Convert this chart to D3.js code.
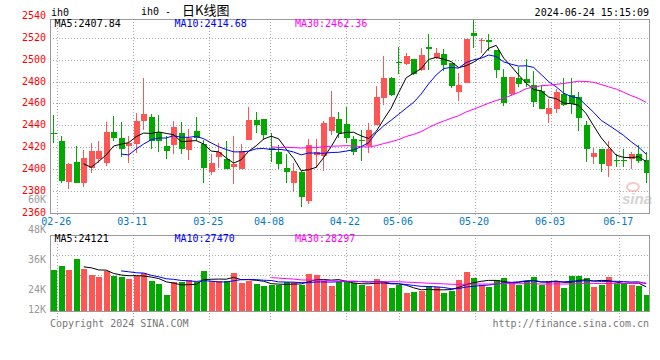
<!DOCTYPE html>
<html><head><meta charset="utf-8">
<script src="https://cdn.jsdelivr.net/npm/d3@7"></script>
<style>html,body{margin:0;padding:0;background:#fff;} svg{display:block;}</style>
</head><body>
<svg id="c" width="660" height="360"></svg>
<script>
const dates = ["02-23","02-26","02-27","02-28","02-29","03-01","03-04","03-05","03-06","03-07","03-08","03-11","03-12","03-13","03-14","03-15","03-18","03-19","03-20","03-21","03-22","03-25","03-26","03-27","03-28","03-29","04-01","04-02","04-03","04-08","04-09","04-10","04-11","04-12","04-15","04-16","04-17","04-18","04-19","04-22","04-23","04-24","04-25","04-26","04-29","04-30","05-06","05-07","05-08","05-09","05-10","05-13","05-14","05-15","05-16","05-17","05-20","05-21","05-22","05-23","05-24","05-27","05-28","05-29","05-30","05-31","06-03","06-04","06-05","06-06","06-07","06-11","06-12","06-13","06-14","06-17","06-18","06-19","06-20","06-21"];
const opens = [2432.5,2425.6,2388.4,2406.4,2387.5,2401.2,2409.4,2405.8,2433.8,2428.3,2421.0,2422.6,2443.9,2447.3,2433.8,2421.0,2421.9,2432.9,2417.4,2434.7,2422.8,2397.5,2411.3,2409.1,2402.1,2400.0,2426.5,2444.8,2445.7,2419.2,2415.8,2401.2,2387.5,2397.5,2371.0,2412.8,2412.2,2435.0,2445.7,2441.1,2427.1,2426.2,2421.3,2440.2,2465.3,2483.6,2497.8,2496.4,2500.9,2490.6,2511.6,2501.3,2504.9,2497.3,2470.7,2478.7,2524.1,2517.8,2518.0,2508.9,2484.5,2468.3,2483.3,2482.4,2476.9,2471.7,2450.0,2454.6,2468.3,2467.4,2466.2,2440.3,2411.3,2418.6,2402.8,2408.5,2408.5,2408.9,2413.4,2408.2];
const highs = [2449.4,2430.2,2405.8,2421.0,2417.4,2423.5,2425.6,2443.0,2448.5,2443.0,2430.2,2450.9,2483.6,2450.3,2449.4,2430.2,2443.9,2443.0,2436.6,2447.6,2426.5,2413.7,2424.1,2425.6,2430.2,2422.8,2457.0,2452.4,2445.7,2433.2,2421.9,2413.7,2405.8,2398.2,2427.4,2427.4,2443.9,2471.3,2452.4,2457.0,2430.0,2435.7,2441.8,2475.9,2503.7,2484.5,2511.9,2506.4,2500.9,2511.0,2523.2,2511.0,2509.5,2497.3,2487.5,2518.9,2537.2,2520.2,2523.2,2508.9,2491.2,2484.5,2493.0,2500.4,2490.0,2476.9,2463.8,2472.9,2483.0,2483.0,2470.8,2444.2,2418.9,2418.6,2425.6,2413.4,2418.0,2415.9,2422.0,2415.9];
const lows = [2423.5,2387.5,2382.0,2387.0,2383.8,2396.6,2405.8,2402.7,2425.9,2411.3,2405.8,2414.3,2435.7,2418.6,2415.8,2409.4,2413.7,2413.7,2408.2,2426.0,2387.5,2394.5,2401.2,2399.7,2386.2,2400.0,2426.5,2433.2,2426.5,2406.7,2400.0,2387.5,2379.2,2365.5,2368.0,2400.6,2398.1,2431.1,2428.6,2424.1,2413.0,2407.6,2414.3,2440.2,2458.6,2466.8,2486.6,2495.1,2486.0,2489.7,2490.6,2500.6,2489.7,2473.8,2462.2,2478.7,2510.4,2505.8,2508.3,2483.0,2457.7,2467.1,2475.3,2474.7,2456.4,2454.6,2441.8,2450.9,2457.7,2450.3,2435.1,2406.7,2404.6,2397.6,2392.4,2402.2,2402.2,2400.0,2405.2,2386.9];
const closes = [2432.0,2389.3,2404.5,2387.5,2410.0,2416.5,2416.5,2433.8,2428.3,2418.6,2423.5,2443.9,2450.3,2425.9,2425.9,2416.8,2438.1,2418.6,2428.0,2428.3,2401.2,2405.8,2415.2,2400.3,2404.5,2416.5,2444.8,2440.2,2431.1,2417.4,2404.5,2397.5,2398.1,2374.6,2421.9,2415.5,2442.4,2447.8,2433.2,2428.6,2415.9,2425.9,2435.7,2465.9,2483.6,2467.7,2496.8,2503.4,2486.9,2504.3,2510.1,2505.8,2495.2,2475.9,2476.8,2518.9,2522.0,2518.2,2515.9,2490.6,2460.7,2484.5,2478.1,2478.7,2461.6,2454.6,2456.1,2470.5,2458.6,2459.2,2447.0,2418.0,2414.3,2404.3,2418.6,2408.0,2408.0,2413.4,2407.6,2396.7];
const volumes = [32000,33600,32000,36400,32400,30000,29333,31600,29733,29333,28533,29600,30800,27600,26400,22000,27067,27200,28000,27067,31600,27600,27600,27733,30800,26933,27600,26400,25733,26000,26000,27067,27067,26000,30400,30000,27600,25733,27067,27067,26667,26000,25600,28400,27600,24800,26000,22800,23200,23600,25600,25200,22800,23600,28000,31200,28800,25867,25333,28000,28800,27200,26000,27600,29200,26000,27600,27600,24800,29600,29600,28800,25200,26000,29200,26400,26400,26000,25600,22000];
const xTickLabels = ["02-26","03-11","03-25","04-08","04-22","05-06","05-20","06-03","06-17"];
const priceTicks = [2360,2380,2400,2420,2440,2460,2480,2500,2520,2540];
const volTicks = [12000,24000,36000,48000,60000];
const priceHeader = ["MA5:2407.84","MA10:2414.68","MA30:2462.36"];
const volHeader = ["MA5:24121","MA10:27470","MA30:28297"];
const maPeriods = [5,10,30];
const maColors = ["#000000","#0000ff","#ff00ff"];
const symbolText = "ih0";
const titleLatin = "ih0 - ";
const titleCJK = "日K线图";
const timeText = "2024-06-24 15:15:09";
const footLeft = "Copyright 2024 SINA.COM";
const footRight = "http://finance.sina.com.cn";

const RED = "#ff5555", GREEN = "#00a800", GRID = "#aaaaaa", BORDER = "#999999";
const MONO = "'DejaVu Sans Mono', monospace";
const L = 50, R = 649, MT = 19, MB = 213, VT = 234.5, VB = 311;

const svg = d3.select("#c");
const x = d3.scalePoint().domain(dates).range([53.2, 645.7]);
const xGrid = d3.scaleLinear().domain([1, 75]).range([57.3, 619.3]);
const y = d3.scaleLinear().domain([2360, 2540]).range([212.7, 16]);
const yv = d3.scaleLinear().domain([0, 60000]).range([350, 200]);

const data = dates.map((d, i) => ({d, o: opens[i], h: highs[i], l: lows[i], c: closes[i], v: volumes[i]}));
const colorOf = d => d.c >= d.o ? RED : GREEN;

function ma(arr, n) { return arr.map((_, i) => i < n - 1 ? null : d3.mean(arr.slice(i - n + 1, i + 1))); }

// Gridlines
const g = svg.append("g").attr("stroke", GRID).attr("stroke-dasharray", "1,2").attr("shape-rendering", "crispEdges");
priceTicks.filter(t => t > 2360 && t < 2540).forEach(t => {
  const yy = Math.round(y(t)) + 0.5;
  g.append("line").attr("x1", L).attr("x2", R).attr("y1", yy).attr("y2", yy);
});
[255, 275, 295].forEach(yy => g.append("line").attr("x1", L).attr("x2", R).attr("y1", yy + 0.5).attr("y2", yy + 0.5));
xTickLabels.forEach(lab => {
  const xx = Math.round(xGrid(dates.indexOf(lab))) + 0.5;
  g.append("line").attr("x1", xx).attr("x2", xx).attr("y1", MT).attr("y2", MB + 3);
  g.append("line").attr("x1", xx).attr("x2", xx).attr("y1", VT).attr("y2", 320);
});

// Candles
const bw = 6;
const cg = svg.append("g").attr("shape-rendering", "crispEdges");
data.forEach(d => {
  const cx = Math.round(x(d.d));
  const col = colorOf(d);
  cg.append("line").attr("x1", cx + 0.5).attr("x2", cx + 0.5).attr("y1", y(d.h)).attr("y2", y(d.l)).attr("stroke", col);
  const top = y(Math.max(d.o, d.c)), bot = y(Math.min(d.o, d.c));
  cg.append("rect").attr("x", cx - 2.5).attr("y", top).attr("width", bw).attr("height", Math.max(1, bot - top)).attr("fill", col);
});

// Price MA lines
maPeriods.forEach((n, k) => {
  const m = ma(closes, n);
  const line = d3.line().defined(d => d[1] != null).x(d => x(d[0]) + 0.5).y(d => y(d[1]));
  svg.append("path").datum(dates.map((d, i) => [d, m[i]])).attr("d", line)
    .attr("fill", "none").attr("stroke", maColors[k]).attr("stroke-width", 1);
});

// Volume bars
const vg = svg.append("g").attr("shape-rendering", "crispEdges");
data.forEach(d => {
  const cx = Math.round(x(d.d));
  const top = yv(d.v);
  vg.append("rect").attr("x", cx - 2.5).attr("y", top).attr("width", bw).attr("height", VB - top).attr("fill", colorOf(d));
});
maPeriods.forEach((n, k) => {
  const m = ma(volumes, n);
  const line = d3.line().defined(d => d[1] != null).x(d => x(d[0]) + 0.5).y(d => yv(d[1]));
  svg.append("path").datum(dates.map((d, i) => [d, m[i]])).attr("d", line)
    .attr("fill", "none").attr("stroke", maColors[k]).attr("stroke-width", 1);
});

// Borders
const bg = svg.append("g").attr("stroke", BORDER).attr("fill", "none").attr("shape-rendering", "crispEdges");
bg.append("rect").attr("x", L + 0.5).attr("y", MT + 0.5).attr("width", R - L).attr("height", MB - MT);
bg.append("rect").attr("x", L + 0.5).attr("y", VT + 0.5).attr("width", R - L).attr("height", VB - VT);

// Watermark
const wm = svg.append("g").attr("opacity", 0.55);
wm.append("ellipse").attr("cx", 633).attr("cy", 187).attr("rx", 6).attr("ry", 4).attr("fill", "none").attr("stroke", "#f0a0a0").attr("stroke-width", 2);
wm.append("text").attr("x", 622).attr("y", 204).attr("font-family", "Arial, 'Liberation Sans', sans-serif")
  .attr("font-size", 15).attr("font-weight", "bold").attr("font-style", "italic").attr("fill", "#b0b0b0").text("sina");

// Axis labels
const txt = (xx, yy, s, col, anchor, extra) => {
  const t = svg.append("text").attr("x", xx).attr("y", yy).attr("font-family", MONO).attr("font-size", 10)
    .attr("fill", col).attr("text-anchor", anchor || "start").text(s);
  if (extra) extra(t);
  return t;
};
priceTicks.forEach(t => txt(46, y(t), String(t), "#ff0000", "end", s => s.attr("dominant-baseline", "middle")));
volTicks.forEach(t => txt(46, Math.min(yv(t), 310), (t / 1000) + "K", "#999999", "end", s => s.attr("dominant-baseline", "middle")));
xTickLabels.forEach(lab => txt(xGrid(dates.indexOf(lab)) - 1, 225, lab, "#0078c8", "middle"));

// Headers
txt(51, 15.5, symbolText, "#000");
const title = svg.append("text").attr("x", 141).attr("y", 15).attr("fill", "#000");
title.append("tspan").attr("font-family", MONO).attr("font-size", 10).text(titleLatin);
title.append("tspan").attr("x", 182).attr("font-family", "'Noto Sans CJK SC', sans-serif").attr("font-size", 13).text(titleCJK);
txt(649, 15.5, timeText, "#000", "end");
const hx = [54.5, 174.5, 295];
priceHeader.forEach((s, k) => txt(hx[k], 27.3, s, maColors[k]));
volHeader.forEach((s, k) => txt(hx[k], 242, s, maColors[k]));

// Footer
txt(50, 327, footLeft, "#777");
txt(649, 327, footRight, "#777", "end");
</script>
</body></html>
